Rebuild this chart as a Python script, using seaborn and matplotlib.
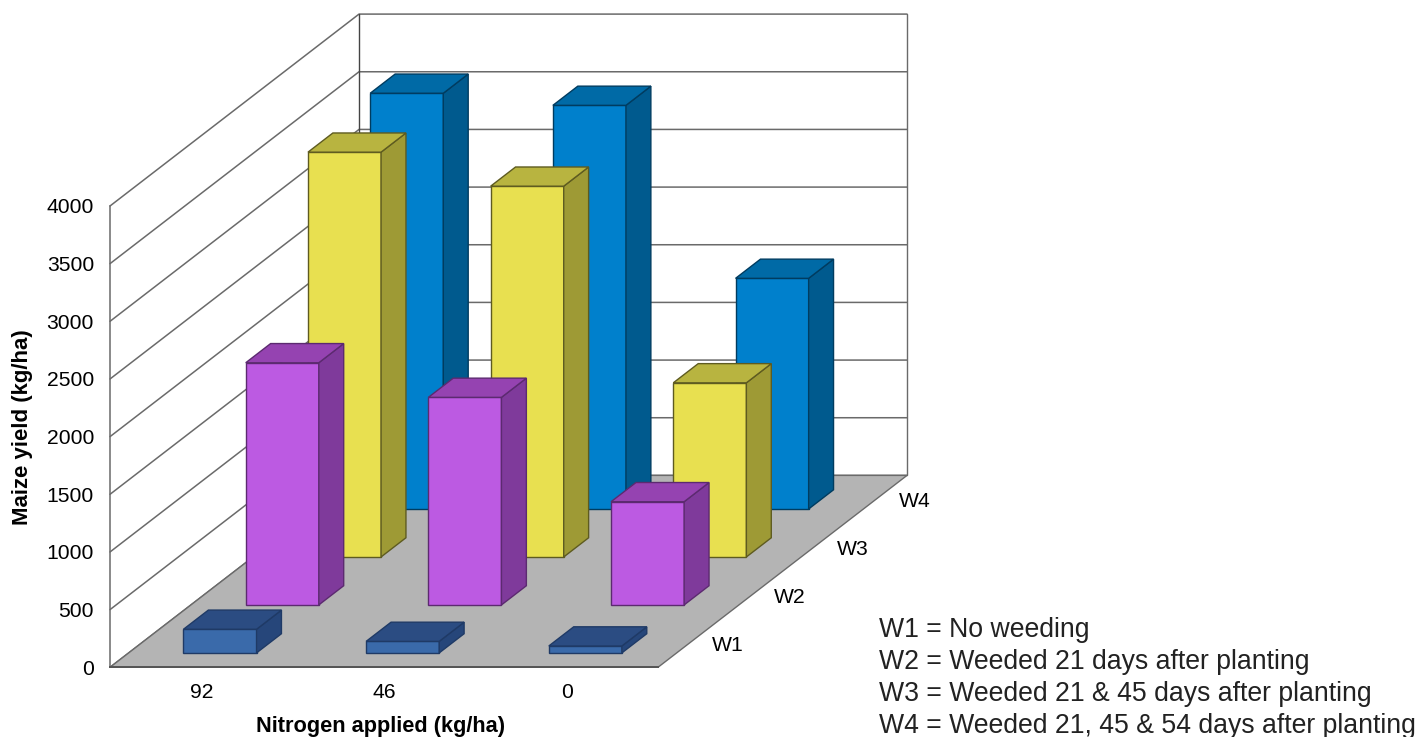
import numpy as np
import pandas as pd
import seaborn as sns
import matplotlib.pyplot as plt
from matplotlib.transforms import Affine2D

# values
nitrogen = ["92", "46", "0"]
w1_yield = [205, 100, 60]
w2_yield = [2100, 1800, 895]
w3_yield = [3510, 3215, 1510]
w4_yield = [3605, 3500, 2000]
weeding = ["W1", "W2", "W3", "W4"]
yield_ticks = [0, 500, 1000, 1500, 2000, 2500, 3000, 3500, 4000]
key_lines = [
    "W1 = No weeding",
    "W2 = Weeded 21 days after planting",
    "W3 = Weeded 21 & 45 days after planting",
    "W4 = Weeded 21, 45 & 54 days after planting",
]

# front, side, top
shades = {
    "W1": ("#3a6aaa", "#26467a", "#2b4c82"),
    "W2": ("#bc5ae2", "#7f3a9b", "#9543b1"),
    "W3": ("#e8e050", "#9e9a35", "#b8b440"),
    "W4": ("#0080cc", "#005a8e", "#006aa6"),
}
edges = {"W1": "#1f3a66", "W2": "#5c2a70", "W3": "#5e5b20", "W4": "#003c60"}

# one step back along the floor, in data units
DX = 0.3408
DZ = 416.0
BAR_W = 0.4
BAR_FRONT = 0.3
BAR_DEPTH = 0.4
LINE = "#6a6a6a"

sns.set_theme(style="white")
plt.rcParams["font.family"] = ["Liberation Sans", "DejaVu Sans"]


def proj(x, d, z):
    return x + d * DX, z + d * DZ


def face(ax, pts, color, edge, zorder):
    xy = [proj(*p) for p in pts]
    ax.fill([p[0] for p in xy], [p[1] for p in xy], facecolor=color, edgecolor=edge,
            linewidth=1, zorder=zorder, clip_on=False)


def draw_room(ax):
    x0, x1 = -0.5, 2.5
    n = len(weeding)
    top = yield_ticks[-1]
    face(ax, [(x0, 0, 0), (x1, 0, 0), (x1, n, 0), (x0, n, 0)], "#b4b4b4", LINE, 0.6)
    for v in yield_ticks:
        xy = [proj(x0, 0, v), proj(x0, n, v), proj(x1, n, v)]
        ax.plot([p[0] for p in xy], [p[1] for p in xy], color=LINE, lw=1.1,
                zorder=0.5, clip_on=False)
    xy = [proj(x0, n, 0), proj(x0, n, top)]
    ax.plot([p[0] for p in xy], [p[1] for p in xy], color="#444444", lw=1, zorder=0.5, clip_on=False)
    xy = [proj(x1, n, 0), proj(x1, n, top)]
    ax.plot([p[0] for p in xy], [p[1] for p in xy], color=LINE, lw=1, zorder=0.5, clip_on=False)


def draw_series(ax, df, name, d):
    sub = df[df["weeding"] == name]
    front, side, top = shades[name]
    edge = edges[name]
    zo = 10 - d
    d0 = d + BAR_FRONT
    d1 = d0 + BAR_DEPTH

    # front faces are ordinary seaborn bars, slid back onto their row
    before = len(ax.patches)
    sns.barplot(data=sub, x="nitrogen", y="yield", order=nitrogen, color=front, saturation=1,
                width=BAR_W, errorbar=None, edgecolor=edge, linewidth=1, ax=ax)
    shift = Affine2D().translate(d0 * DX, d0 * DZ) + ax.transData
    for patch in ax.patches[before:]:
        patch.set_transform(shift)
        patch.set_zorder(zo)
        patch.set_clip_on(False)

    for i, h in enumerate(sub["yield"]):
        l, r = i - BAR_W / 2, i + BAR_W / 2
        face(ax, [(r, d0, 0), (r, d1, 0), (r, d1, h), (r, d0, h)], side, edge, zo)
        face(ax, [(l, d0, h), (r, d0, h), (r, d1, h), (l, d1, h)], top, edge, zo)


def main():
    df = pd.DataFrame({
        "nitrogen": nitrogen * 4,
        "weeding": np.repeat(weeding, 3),
        "yield": w1_yield + w2_yield + w3_yield + w4_yield,
    })

    fig = plt.figure(figsize=(14.2, 7.37), dpi=100)
    ax = fig.add_axes([110 / 1420, (737 - 667.3) / 737, 548 / 1420, 461.3 / 737])
    ax.patch.set_visible(False)

    draw_room(ax)
    for d, name in reversed(list(enumerate(weeding))):
        draw_series(ax, df, name, d)

    ax.set_xlim(-0.5, 2.5)
    ax.set_ylim(0, yield_ticks[-1])
    ax.set_yticks(yield_ticks)
    ax.tick_params(axis="y", length=0, pad=11.5, labelsize=15.2, colors="black")
    ax.tick_params(axis="x", length=0, pad=11.5, labelsize=15.2, colors="black")

    sns.despine(ax=ax, top=True, right=True)
    ax.spines["left"].set_color(LINE)
    ax.spines["left"].set_linewidth(1.1)
    ax.spines["bottom"].set_color("#555555")
    ax.spines["bottom"].set_linewidth(1.4)

    ax.set_xlabel("Nitrogen applied (kg/ha)", fontsize=15.7, fontweight="bold", color="black")
    ax.xaxis.set_label_coords(0.493, -0.105)
    ax.set_ylabel("Maize yield (kg/ha)", fontsize=16, fontweight="bold", color="black")
    ax.yaxis.set_label_coords(-0.14, 0.52)

    for d, name in enumerate(weeding):
        ax.annotate(name, xy=proj(2.5, d + 0.5, 0), xytext=(16.5, -1.4), textcoords="offset points",
                    ha="left", va="center", fontsize=15.2, color="black", annotation_clip=False)

    for i, line in enumerate(key_lines):
        fig.text(879 / 1420, 1 - (630 + i * 32) / 737, line, fontsize=19.2, color="#222222",
                 ha="left", va="center")

    fig.savefig("out.png", dpi=100)
    plt.close(fig)


if __name__ == "__main__":
    main()
